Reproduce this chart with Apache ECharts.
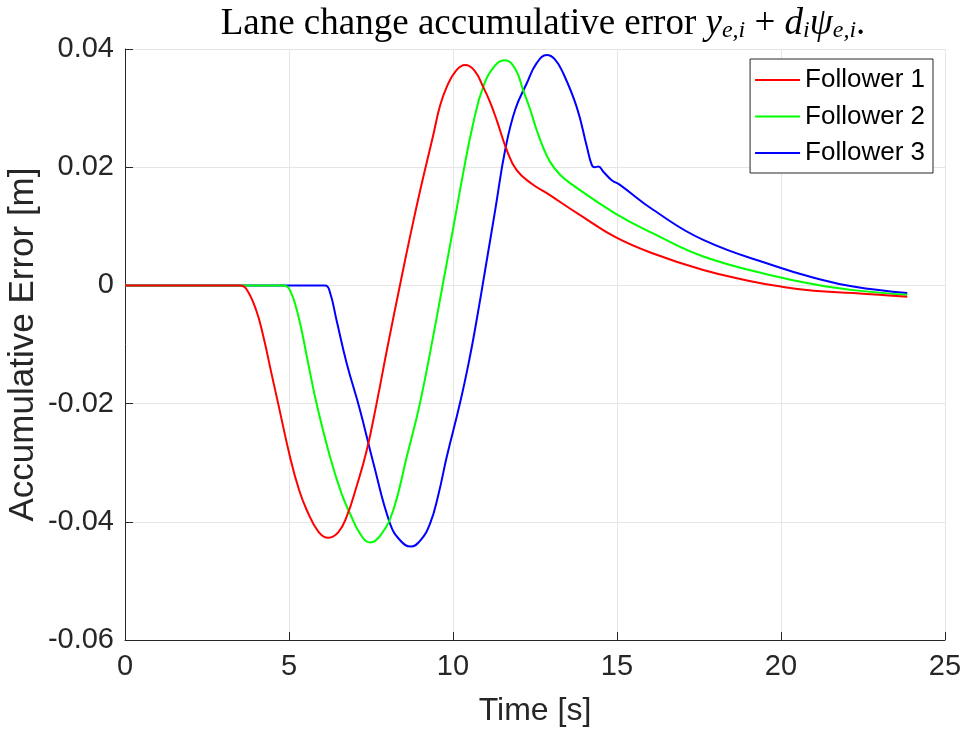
<!DOCTYPE html>
<html><head><meta charset="utf-8">
<script src="https://cdn.jsdelivr.net/npm/echarts@6/dist/echarts.min.js"></script>
<style>html,body{margin:0;padding:0;background:#fff}#c{width:965px;height:734px}</style>
</head><body><div id="c"></div>
<script>
var seriesNames = ['Follower 1', 'Follower 2', 'Follower 3'];
var xTicks = [0, 5, 10, 15, 20, 25];
var yTicks = [-0.06, -0.04, -0.02, 0, 0.02, 0.04];

var f1T = [0, 3.5, 3.7, 4.0, 4.22, 4.45, 4.67, 5.03, 5.3, 5.54, 5.9, 6.2, 6.5, 6.76, 7.05, 7.37, 7.67, 8.0, 8.4, 8.7, 9.0, 9.4, 9.6, 9.81, 10.1, 10.37, 10.65, 10.92, 11.13, 11.33, 11.64, 11.94, 12.4, 12.86, 13.9, 14.94, 16.1, 17.63, 19.0, 20.0, 21.0, 22.2, 23.0, 23.85];
var f1V = [0, 0, -0.0006, -0.0042, -0.0087, -0.0145, -0.020, -0.029, -0.0345, -0.038, -0.0417, -0.0427, -0.0418, -0.0391, -0.0342, -0.0279, -0.020, -0.0105, 0.0005, 0.0085, 0.0161, 0.0255, 0.0303, 0.0336, 0.0364, 0.0373, 0.0364, 0.0336, 0.031, 0.028, 0.0229, 0.0195, 0.0172, 0.0156, 0.0118, 0.0082, 0.0054, 0.0026, 0.0008, -0.0002, -0.0009, -0.0013, -0.0016, -0.0019];

var f2T = [0, 4.83, 5.03, 5.3, 5.56, 5.84, 6.25, 6.6, 6.86, 7.2, 7.47, 7.8, 8.18, 8.59, 8.99, 9.4, 9.7, 10.0, 10.31, 10.6, 10.92, 11.3, 11.59, 11.9, 12.14, 12.35, 12.55, 12.76, 12.96, 13.25, 13.57, 14.94, 16.1, 17.63, 19.86, 21.0, 22.2, 23.85];
var f2V = [0, 0, -0.0008, -0.0055, -0.0125, -0.020, -0.029, -0.0352, -0.0386, -0.0423, -0.0435, -0.0422, -0.038, -0.029, -0.020, -0.0085, 0.0005, 0.0095, 0.019, 0.027, 0.0336, 0.0373, 0.0381, 0.0366, 0.033, 0.0298, 0.0263, 0.0232, 0.0209, 0.0188, 0.0173, 0.0122, 0.0088, 0.0049, 0.0015, 0.0002, -0.0008, -0.0016];

var f3T = [0, 6.1, 6.25, 6.45, 6.76, 7.16, 7.57, 8.08, 8.4, 8.71, 9.0, 9.3, 9.55, 9.81, 10.21, 10.5, 10.72, 10.98, 11.3, 11.59, 11.9, 12.25, 12.55, 12.86, 13.1, 13.36, 13.77, 14.08, 14.23, 14.32, 14.43, 14.59, 14.84, 15.09, 16.1, 17.63, 19.86, 21.0, 22.2, 23.85];
var f3V = [0, 0, -0.0012, -0.0059, -0.0132, -0.021, -0.030, -0.0403, -0.0432, -0.0442, -0.0432, -0.0403, -0.0355, -0.029, -0.020, -0.0125, -0.0059, 0.0026, 0.0132, 0.0229, 0.0298, 0.0342, 0.0376, 0.039, 0.0383, 0.0359, 0.0302, 0.0235, 0.0204, 0.0200, 0.0201, 0.0192, 0.0178, 0.017, 0.0128, 0.0077, 0.0032, 0.0013, -0.0002, -0.0013];

var colors = ['#ff0000', '#00ff00', '#0000ff'];
var allT = [f1T, f2T, f3T], allV = [f1V, f2V, f3V];

function pairs(t, v) { return t.map(function (x, i) { return [x, v[i]]; }); }

var chart = echarts.init(document.getElementById('c'));
var font = 'Liberation Sans, Arial, Helvetica, sans-serif';
var serif = 'Liberation Serif, DejaVu Serif, serif';
var axisCol = '#262626';
chart.setOption({
  animation: false,
  backgroundColor: '#fff',
  title: {
    text: '{n|Lane change accumulative error }{m|y}{s|e,i}{n| + }{m|d}{s|i}{m|ψ}{s|e,i}{n|.}',
    left: 538, textAlign: 'center', top: 0,
    textStyle: {
      fontWeight: 'normal',
      rich: {
        n: { fontFamily: serif, fontWeight: 'normal', fontSize: 37, color: '#000', lineHeight: 38, verticalAlign: 'bottom' },
        m: { fontFamily: serif, fontWeight: 'normal', fontStyle: 'italic', fontSize: 37, color: '#000', lineHeight: 38, verticalAlign: 'bottom' },
        s: { fontFamily: serif, fontWeight: 'normal', fontStyle: 'italic', fontSize: 24, color: '#000', lineHeight: 38, verticalAlign: 'bottom', padding: [8, 0, 0, 0] }
      }
    }
  },
  legend: {
    data: seriesNames,
    orient: 'vertical', right: 32, top: 59,
    icon: 'rect', itemWidth: 45, itemHeight: 2, itemGap: 10.5, itemTextGap: 3,
    padding: [8, 8, 7, 5],
    backgroundColor: '#fff', borderColor: axisCol, borderWidth: 1,
    textStyle: { fontFamily: font, fontSize: 26, color: '#000', lineHeight: 26 }
  },
  grid: { left: 125, right: 20, top: 49, bottom: 94, containLabel: false, outerBoundsMode: 'none' },
  xAxis: {
    type: 'value', min: xTicks[0], max: xTicks[xTicks.length - 1], interval: 5,
    name: 'Time [s]', nameLocation: 'middle', nameGap: 55, nameMoveOverlap: false,
    nameTextStyle: { fontFamily: font, fontSize: 32, color: axisCol, verticalAlign: 'top', lineHeight: 32 },
    axisLine: { show: true, onZero: false, lineStyle: { color: axisCol, width: 1 } },
    axisTick: { show: true, inside: true, length: 8, lineStyle: { color: axisCol } },
    axisLabel: { fontFamily: font, fontSize: 29, color: axisCol, margin: 12 },
    splitLine: { show: true, lineStyle: { color: '#e6e6e6', width: 1 } }
  },
  yAxis: {
    type: 'value', min: yTicks[0], max: yTicks[yTicks.length - 1], interval: 0.02,
    name: 'Accumulative Error [m]', nameLocation: 'middle', nameGap: 84, nameRotate: 90, nameMoveOverlap: false,
    nameTextStyle: { fontFamily: font, fontSize: 35, color: axisCol },
    axisLine: { show: true, onZero: false, lineStyle: { color: axisCol, width: 1 } },
    axisTick: { show: true, inside: true, length: 8, lineStyle: { color: axisCol } },
    axisLabel: { fontFamily: font, fontSize: 29, color: axisCol, margin: 11,
      formatter: function (v) { return (Math.abs(v) < 1e-9) ? '0' : String(Math.round(v * 100) / 100); } },
    splitLine: { show: true, lineStyle: { color: '#e6e6e6', width: 1 } }
  },
  series: seriesNames.map(function (n, i) {
    return {
      name: n, type: 'line', data: pairs(allT[i], allV[i]), smooth: 0.45,
      showSymbol: false, symbol: 'none', color: colors[i],
      lineStyle: { color: colors[i], width: 2 }, z: 5 - i
    };
  })
});
</script></body></html>
